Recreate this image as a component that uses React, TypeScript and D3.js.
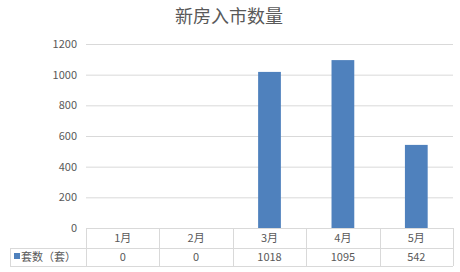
import React from "react";
import * as d3 from "d3";

const months = ["1月", "2月", "3月", "4月", "5月"];
const counts = [0, 0, 1018, 1095, 542];
const yTicks = [0, 200, 400, 600, 800, 1000, 1200];
const seriesName = "套数（套）";
const title = "新房入市数量";

const W = 460;
const H = 272;
const plotLeft = 86;
const plotRight = 453;
const plotTop = 44;
const plotBottom = 228;
const rowMid = 248;
const tableBottom = 266;
const tableLeft = 10;

const font = "'Noto Sans CJK SC', 'Microsoft YaHei', sans-serif";
const grid = "#d9d9d9";
const textColor = "#595959";
const barColor = "#4f81bd";

export default function App() {
  const x = d3.scaleBand<string>().domain(months).range([plotLeft, plotRight]).paddingInner(0).paddingOuter(0);
  const y = d3.scaleLinear().domain([0, 1200]).range([plotBottom, plotTop]);
  const bw = x.bandwidth() * 0.31;

  return (
    <svg width={W} height={H} style={{ position: "absolute", left: 0, top: 0, background: "#fff" }} fontFamily={font}>
      <text x={229} y={23} textAnchor="middle" fontSize={18} fill={textColor}>{title}</text>
      {yTicks.map((t) => (
        <g key={t}>
          {t > 0 && <line x1={plotLeft} x2={plotRight} y1={y(t) + 0.5} y2={y(t) + 0.5} stroke={grid} />}
          <text x={77} y={y(t) + 4} textAnchor="end" fontSize={11} fill={textColor}>{t}</text>
        </g>
      ))}
      {months.map((m, i) => (
        <rect key={m} x={(x(m) as number) + (x.bandwidth() - bw) / 2} y={y(counts[i])} width={bw} height={plotBottom - y(counts[i])} fill={barColor} />
      ))}
      {/* data table beneath the axis */}
      <g stroke={grid} fill="none">
        <line x1={plotLeft} x2={plotRight} y1={plotBottom + 0.5} y2={plotBottom + 0.5} />
        <line x1={tableLeft} x2={plotRight} y1={rowMid + 0.5} y2={rowMid + 0.5} />
        <line x1={tableLeft} x2={plotRight} y1={tableBottom + 0.5} y2={tableBottom + 0.5} />
        <line x1={tableLeft + 0.5} x2={tableLeft + 0.5} y1={rowMid} y2={tableBottom} />
        {months.map((m) => (
          <line key={m} x1={Math.round(x(m) as number) + 0.5} x2={Math.round(x(m) as number) + 0.5} y1={plotBottom} y2={tableBottom} />
        ))}
        <line x1={plotRight + 0.5} x2={plotRight + 0.5} y1={plotBottom} y2={tableBottom} />
      </g>
      {months.map((m, i) => (
        <g key={m}>
          <text x={(x(m) as number) + x.bandwidth() / 2} y={242} textAnchor="middle" fontSize={11} fill={textColor}>{m}</text>
          <text x={(x(m) as number) + x.bandwidth() / 2} y={261} textAnchor="middle" fontSize={11} fill={textColor}>{counts[i]}</text>
        </g>
      ))}
      <rect x={14} y={253} width={6} height={6} fill={barColor} />
      <text x={21} y={261} fontSize={11} fill={textColor}>{seriesName}</text>
    </svg>
  );
}
